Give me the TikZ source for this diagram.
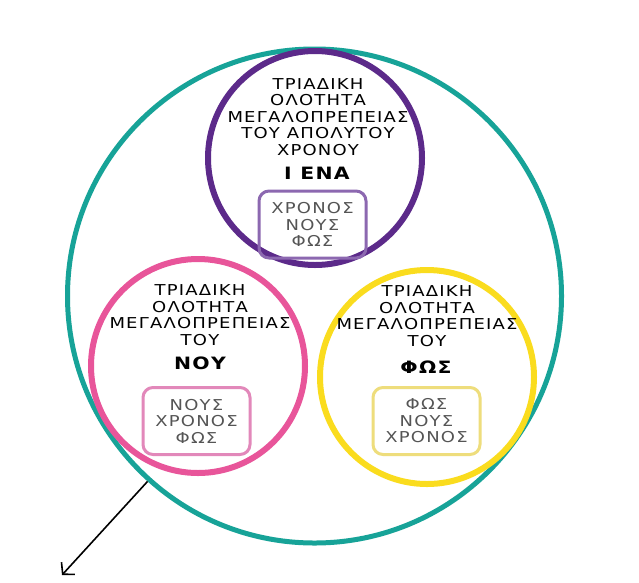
\documentclass[tikz,border=0pt]{standalone}
\usepackage{fontspec}
\newfontfamily\grfont{DejaVu Sans}[LetterSpace=8,FakeStretch=1.2]
\usetikzlibrary{arrows.meta}
\definecolor{trTeal}{HTML}{17A398}
\definecolor{trPurple}{HTML}{5C2A8A}
\definecolor{trPink}{HTML}{E8559A}
\definecolor{trYellow}{HTML}{FADC1E}
\definecolor{trPurpleBox}{HTML}{8C68B0}
\definecolor{trPinkBox}{HTML}{E288BA}
\definecolor{trYellowBox}{HTML}{EEDD7C}
\definecolor{trGrey}{HTML}{555555}

\begin{document}
\begin{tikzpicture}[x=1pt,y=-1pt,
  font=\grfont\fontsize{15}{16.5}\selectfont,
  ring/.style={circle,draw,line width=6pt,minimum size=214pt,inner sep=0pt},
  heading/.style={align=center,text=black,inner sep=0pt},
  bigword/.style={font=\grfont\fontsize{17}{20}\selectfont\bfseries,inner sep=0pt},
  tagbox/.style={rounded corners=10pt,line width=3pt,minimum width=107pt,minimum height=67pt,
              align=center,text=trGrey,inner sep=0pt},
]
\fill[white] (0,0) rectangle (639,582);
\useasboundingbox (0,0) rectangle (639,582);

% outer ring
\node[ring,draw=trTeal,line width=5pt,minimum size=494pt] (whole) at (314.5,296) {};

% the three rings
\node[ring,draw=trPink] (nou) at (198,366) {};
\node[heading] (nouTxt) at (200,315) {ΤΡΙΑΔΙΚΗ\\ΟΛΟΤΗΤΑ\\ΜΕΓΑΛΟΠΡΕΠΕΙΑΣ\\ΤΟΥ};
\node[bigword] (nouName) at (200,363) {ΝΟΥ};
\node[tagbox,draw=trPinkBox] (nouTag) at (196.5,421) {ΝΟΥΣ\\ΧΡΟΝΟΣ\\ΦΩΣ};

\node[ring,draw=trYellow] (fos) at (427,377) {};
\node[heading] (fosTxt) at (427,316) {ΤΡΙΑΔΙΚΗ\\ΟΛΟΤΗΤΑ\\ΜΕΓΑΛΟΠΡΕΠΕΙΑΣ\\ΤΟΥ};
\node[bigword] (fosName) at (426,367) {ΦΩΣ};
\node[tagbox,draw=trYellowBox] (fosTag) at (426.5,421) {ΦΩΣ\\ΝΟΥΣ\\ΧΡΟΝΟΣ};

\node[ring,draw=trPurple] (iena) at (315,158) {};
\node[heading] (ienaTxt) at (318,117) {ΤΡΙΑΔΙΚΗ\\ΟΛΟΤΗΤΑ\\ΜΕΓΑΛΟΠΡΕΠΕΙΑΣ\\ΤΟΥ ΑΠΟΛΥΤΟΥ\\ΧΡΟΝΟΥ};
\node[bigword] (ienaName) at (317,173) {Ι ΕΝΑ};
\node[tagbox,draw=trPurpleBox] (ienaTag) at (312.5,224.5) {ΧΡΟΝΟΣ\\ΝΟΥΣ\\ΦΩΣ};

% pointer out of the whole
\coordinate (away) at (62,575);
\draw[-{Straight Barb[length=8pt,width=18pt]},line width=1.6pt] (whole.228) -- (away);
\end{tikzpicture}
\end{document}
